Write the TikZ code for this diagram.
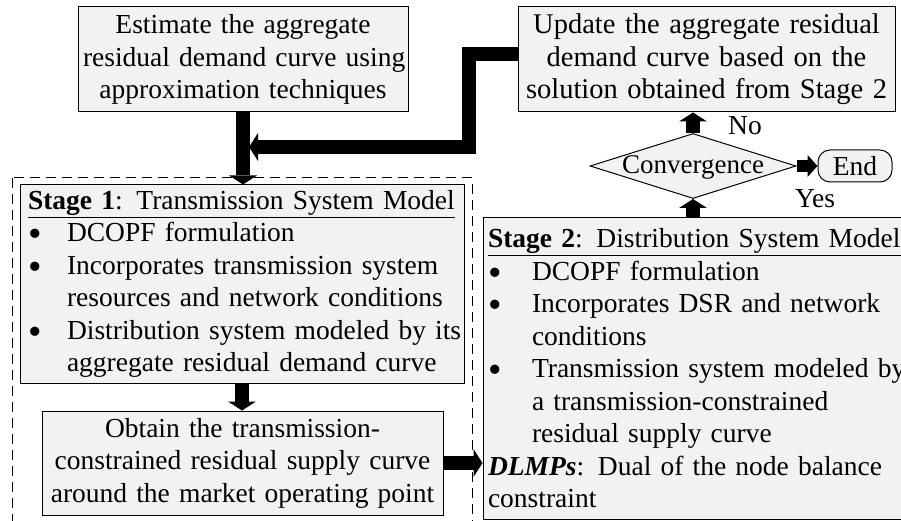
\documentclass[tikz,border=0pt]{standalone}
\usepackage{fontspec}
\setmainfont{Liberation Serif}
\usetikzlibrary{arrows.meta,shapes.geometric}
\definecolor{boxgray}{RGB}{242,242,242}
\newcommand\txtsize{\fontsize{27.5}{32.5}\selectfont}
\newcommand\topsize{\fontsize{28.5}{32.5}\selectfont}
\newcommand\bigbul{\smash{\raisebox{-5pt}{\scalebox{1.4}{\textbullet}}}}
\newcommand\bulA{\makebox[39pt][l]{\bigbul}}
\newcommand\bulB{\makebox[44pt][l]{\bigbul}}
\begin{document}
\begin{tikzpicture}[x=1pt,y=-1pt,
  box/.style={draw, line width=1pt, fill=boxgray, inner ysep=0pt, font=\txtsize},
  topbox/.style={box, minimum height=105pt, align=center},
  lbl/.style={inner sep=0pt, font=\txtsize},
  bigarrow/.style={line width=14pt, line join=miter, draw=black,
     -{Triangle[width=28pt, length=9pt, line width=0pt]}},
  midarrow/.style={line width=12pt, line join=miter, draw=black,
     -{Triangle[width=22pt, length=10pt, line width=0pt]}}]
\useasboundingbox (0,0) rectangle (901,521);

% dashed stage-1 frame
\draw[line width=1pt, dash pattern=on 10pt off 6pt] (12,178) rectangle (472,540);

\node[topbox, minimum width=330pt, text width=320pt]
  (est) at (243,59.5) {\mbox{Estimate the aggregate}\\\mbox{residual demand curve using}\\\mbox{approximation techniques}};

\node[topbox, font=\topsize, minimum width=377pt, text width=367pt]
  (upd) at (706.5,59.5) {\mbox{Update the aggregate residual}\\\mbox{demand curve based on the}\\\mbox{solution obtained from Stage 2}};

\node[box, diamond, shape aspect=3, minimum width=206pt, minimum height=65pt, inner sep=0pt,
      font=\fontsize{27}{32.5}\selectfont, text height=16pt, text depth=-3.5pt]
  (conv) at (693,166) {Convergence};

\node[box, rounded corners=12pt, minimum width=74pt, minimum height=32pt, inner sep=0pt]
  (endn) at (855,166) {End};

\node[box, minimum width=444pt, minimum height=198pt, inner xsep=8pt, text width=428pt, align=left]
  (s1) at (242,284) {\underline{\textbf{Stage 1}: Transmission System Model}\\
  \bulA DCOPF formulation\\
  \bulA \mbox{Incorporates transmission system}\\
  \hspace*{39pt}\mbox{resources and network conditions}\\
  \bulA \mbox{Distribution system modeled by its}\\
  \hspace*{39pt}\mbox{aggregate residual demand curve}};

\node[box, minimum width=401pt, minimum height=104pt, text width=391pt, align=center]
  (obt) at (242.5,463) {\mbox{Obtain the transmission-}\\\mbox{constrained residual supply curve}\\\mbox{around the market operating point}};

\node[box, minimum width=420pt, minimum height=301pt, inner xsep=5pt, text width=410pt, align=left]
  (s2) at (693,368.5) {\underline{\textbf{Stage 2}: Distribution System Model}\\
  \bulB DCOPF formulation\\
  \bulB \mbox{Incorporates DSR and network}\\
  \hspace*{44pt}conditions\\
  \bulB \mbox{Transmission system modeled by}\\
  \hspace*{44pt}\mbox{a transmission-constrained}\\
  \hspace*{44pt}\mbox{residual supply curve}\\
  \mbox{\textbf{\textit{DLMPs}}: Dual of the node balance}\\
  constraint};

\node[lbl] (no) at (745,126) {No};
\node[lbl] (yes) at (815,199) {Yes};

\coordinate (bend) at (469,147);
\coordinate (join) at (249,147);

\draw[bigarrow] (est.south) -- (est.south |- s1.north);
\draw[bigarrow] ([yshift=5pt]upd.west) -| (bend) -- (join);
\draw[bigarrow] (s1.south) -- (s1.south |- obt.north);
\draw[bigarrow] (obt.east) -- (obt.east -| s2.west);
\draw[bigarrow] (conv.north) -- (conv.north |- upd.south);
\draw[bigarrow] (conv.south |- s2.north) -- (conv.south);
\draw[midarrow] (conv.east) -- (endn.west);
\end{tikzpicture}
\end{document}
